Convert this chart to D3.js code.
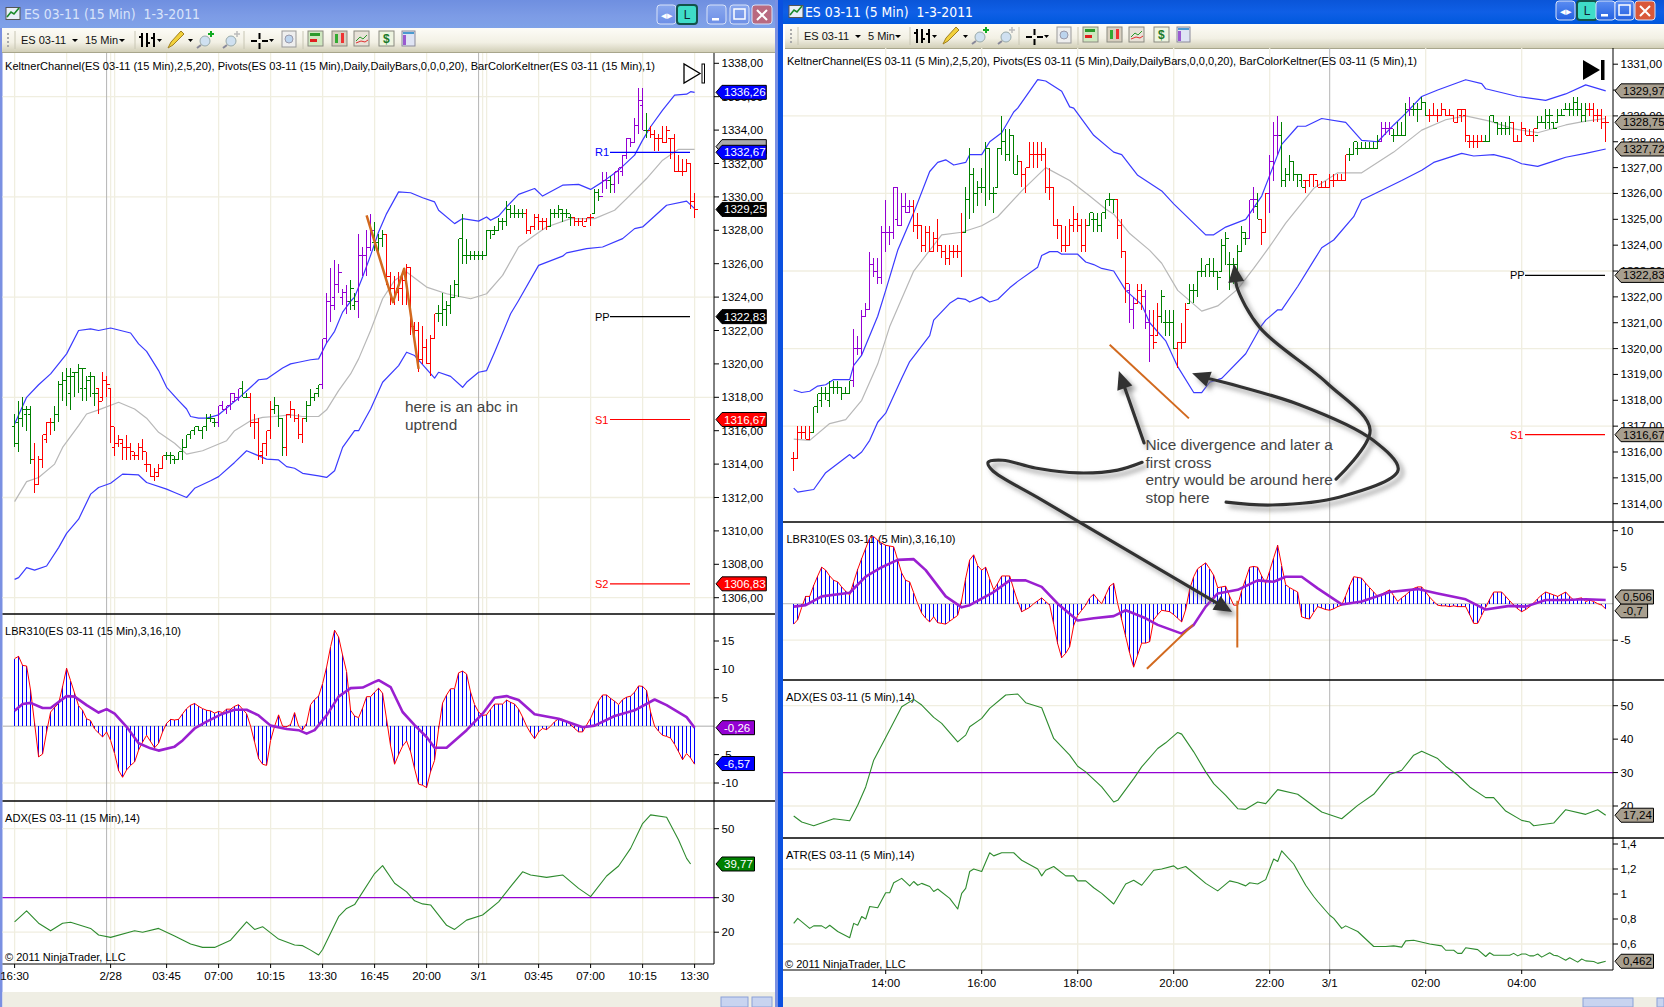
<!DOCTYPE html>
<html><head><meta charset="utf-8">
<script src="https://cdn.jsdelivr.net/npm/d3@7"></script>
<style>html,body{margin:0;padding:0;background:#fff;overflow:hidden}svg{display:block}text{font-family:"Liberation Sans",Arial,sans-serif}</style>
</head><body><div id="c"></div>
<script>
// ===== DATA (prices are stored as offset from priceBase) =====
const priceBase=1300;
// --- 15 minute chart ---
const high15=[17,17.75,18,17.5,17.5,15.25,14.5,15.75,16.5,16.75,17.5,19,19.5,19.75,19.75,19.5,20,19.75,19.25,19.5,19.25,18.5,19.5,19.25,18.5,16.25,15.75,15.5,15.75,15.25,14.75,15.25,15.5,14.75,14,13.75,14,14.5,14.75,14.75,14.5,14.75,15.5,15.75,16,16.25,16.25,16.25,17,17,16.75,17.5,17.75,17.5,18.25,18.25,18.5,19,18.25,18.25,17,16.75,15.25,16,17.75,18,17.5,16.75,17,17.75,17.25,17,16.75,17.75,18.5,18.25,18.75,21.5,24.25,25.75,26.25,26,24.5,24.75,25,24.25,27.75,27,28,29,28.5,27.75,28,27.75,25.5,25.25,25.5,25.5,26,25.75,22.5,22.5,22.25,21.5,21.75,23,23.5,24.25,23.75,24.75,25,27.5,29,27.5,26.75,26.75,26.75,26.75,28,28,28.25,28.75,28.75,29.75,29.5,29.5,29.25,29.25,29.25,28.25,29,29,28.75,28.75,29.25,29.25,29.5,29.25,29.25,29,28.75,28.75,28.75,28.75,29,30.5,30.5,31.5,31.5,31.25,31.5,31.75,32.5,33.5,33.5,34.75,36.5,36.5,35,34.25,34,33.75,34.25,34.25,33.5,33.75,32.5,32.25,32.25,32,30.25];
const low15=[15,14.75,16.25,16,14,12.25,12.75,13.75,15.25,15.75,16,16.5,17.75,17.5,17.25,18,18.25,17.75,17.75,18,17.5,17,17.75,18,15.25,14.5,15,14.25,14.25,14.25,14.25,14.25,14.25,13.5,13.25,13,13.25,13.75,14.25,14,14,14.25,14.25,15,15.5,15.75,16,15.5,16,16.5,16.25,16.25,17.25,17,17.25,17.75,17.75,18,18,16.25,15.5,14.25,14,14.5,15.5,17,16.25,14.5,14.5,16.75,16.5,15.5,15.25,16.5,17.5,17.75,18,18.5,21.25,22.5,23.25,24.25,23.5,23,23.25,23.25,22.75,25.25,25.25,26.75,26.75,26.5,27,24.75,23.5,23.5,23.75,23.5,23.5,21.75,21.75,19.5,20,20,19.25,21.5,22.5,22.25,22.25,23,24,24,26,26,26.25,26.25,26.25,26.25,26.5,27.5,27.75,28,28,28.25,28.75,28.75,28.75,28.75,27.75,27.75,28,28,28,28,28.25,28.75,28.75,28.5,28.75,28.25,28.25,28.25,28.25,28.5,28.25,29,29.75,30.25,30.5,30.25,30.25,30.75,31.25,32.25,33,33.25,33.75,34,33.5,33.5,32.75,32.75,33.25,33.25,32.25,31.5,31.5,31.25,31.5,29.25,28.75];
const open15=[16.25,16.5,16.75,17,17,14.25,12.75,14.25,15.5,16.5,16.5,17,18.75,19,18.25,19.5,19.5,18.5,18.5,19.25,18.25,18.5,18,19,18.5,15,15.25,15.25,15,15,14.5,14.5,15,14,14,13.25,13.25,13.75,14.5,14.5,14.25,14.25,14.75,15,15.75,16,16.25,16,16.25,16.75,16.5,16.5,17.5,17.25,17.5,17.75,18,18.5,18,18,16.5,16.5,14.75,15.25,16,17.25,17.5,16.75,15,17,17.25,16.75,15.75,16.75,17.5,18,18.5,18.75,21.5,23.75,24,24.75,24,24.25,23.75,23.5,23.75,26.5,26.5,27,27.25,27.25,27.5,27.75,25.25,24.5,24.5,24.5,25,25.75,22.25,22,20.25,21,20,21.5,23,23,23.25,23.5,24,24.75,27.5,26.5,26.5,26.5,26.5,26.5,26.5,28,27.75,28,28.5,28.5,29.25,29,29,29,29,28,28.25,28.75,28.5,28.5,28.25,29,29,29,29,28.75,28.75,28.5,28.5,28.5,28.75,29,30.25,30,31,31,30.75,31.5,31.5,32.5,33.5,33.25,34.25,35.5,34,34,33.75,33.5,33.5,33.25,33.5,33.5,31.5,31.5,31.5,32,29.75];
const close15=[15.25,16.75,17.25,17.25,14.25,12.75,14.25,15.75,16.5,16.5,17,18.75,19,19.25,19.25,19.5,19.75,19.75,19,19.25,18.25,17.75,19,18.75,16.25,15.25,15.5,15,15,14.75,14.5,15,14.75,14,13.25,13.5,13.75,14.5,14.5,14.5,14.25,14.75,15,15.75,16,16.25,16,16.25,16.75,16.75,16.5,17.5,17.25,17.5,18.25,18,18.5,18,18,16.5,16.5,14.5,15.25,16,17.25,17.5,16.75,15,17,17.25,16.75,15.75,16.75,17.5,18,18.25,18.75,21.5,23.75,23.5,24.75,25.5,24.25,23.75,24.5,23.75,26.5,26.5,27,28,27.25,27.5,27.75,25.25,24.5,24.25,24.5,25,25.75,22.25,22,20.25,21,20,21.5,23,23,23.25,23.5,24,24.75,27.5,26.5,26.5,26.5,26.5,26.5,26.5,28,28,28,28.5,28.5,29.25,29,29,29,29,28,28.25,28.75,28.5,28.5,28.25,29,29,29.25,29,29,28.75,28.5,28.5,28.25,28.75,28.75,30.25,30,31,31,30.75,31.5,31.75,32.5,33.5,33.25,34.25,35.75,34,34,33.75,33.5,33.5,33.25,34,33.5,31.5,31.5,31.5,32,29.75,29.25];
const colorRuns15=[["g",5],["r",5],["g",11],["r",17],["g",13],["p",6],["g",2],["r",6],["g",3],["r",5],["g",4],["p",7],["g",2],["p",4],["g",3],["r",13],["g",22],["r",6],["g",6],["r",5],["g",2],["p",2],["g",1],["p",8],["g",1],["r",12]];
const upper15=[[0,16.4],[3,18],[6,18.75],[9,19.4],[13,20.6],[16,22],[19,22.1],[21,22],[24,22.15],[29,21.85],[31,21.2],[33,20.75],[36,19.6],[38,18.6],[41,17.8],[43,17.3],[44,16.85],[46,16.75],[48,16.75],[51,16.95],[54,17.55],[56,17.95],[59,18.6],[61,19.05],[63,19.1],[67,19.75],[69,20],[71,20.1],[74,20.25],[76,20.3],[78,21.25],[80,21.95],[82,23.1],[84,23.75],[85,24],[87,25.2],[89,26.5],[91,27.9],[93,29],[96,30.3],[99,30.25],[102,29.95],[105,29.7],[106,29.2],[110,28.4],[112,28.7],[116,28.55],[118,28.8],[119,28.6],[121,28.85],[123,29.4],[126,30.15],[130,30.5],[132,30.05],[137,30.7],[141,30.75],[144,30.45],[147,30.9],[151,31.6],[155,32.5],[157,33.4],[159,34.2],[162,35.2],[165,36.1],[168,36.15],[169,36.3],[170,36.26]];
const middle15=[[0,11.75],[3,12.95],[6,13.2],[10,14],[12,15],[16,16.3],[18,17],[21,17.25],[26,17.7],[30,17.3],[33,16.75],[36,15.9],[40,15.25],[43,14.6],[47,14.8],[53,15.4],[55,16],[59,16.6],[62,16.8],[65,16.85],[69,16.95],[72,16.85],[76,16.85],[78,17.25],[81,18.4],[84,19.4],[86,20.3],[89,22],[92,23.9],[95,25],[98,25.5],[103,24.6],[108,24.2],[114,23.9],[118,24.2],[122,25.3],[126,27],[130,27.7],[133,28.2],[139,28.7],[145,28.7],[150,29.2],[153,29.9],[158,31.1],[162,32.2],[166,32.85],[170,32.85]];
const lower15=[[0,7.1],[1,7.2],[3,7.8],[5,7.65],[8,7.9],[11,9],[13,9.85],[16,10.7],[19,12.2],[21,12.6],[24,12.85],[27,13.4],[31,13.35],[33,12.9],[38,12.5],[40,12.3],[43,12],[45,12.55],[49,13],[51,13.25],[55,14.1],[58,14.8],[60,14.6],[63,14.3],[66,14.25],[68,13.85],[70,13.75],[72,13.45],[76,13.3],[78,13.2],[80,13.6],[82,15],[85,16],[86,16],[89,17.3],[92,18.9],[96,19.9],[98,20.7],[100,20.5],[105,19.15],[106,19.5],[109,19.25],[112,18.6],[113,18.9],[116,19.5],[118,19.6],[120,20.7],[124,23],[126,23.8],[131,25.9],[137,26.45],[138,26.65],[143,26.9],[147,27],[152,27.5],[155,28.1],[157,28.2],[163,29.5],[168,29.75],[170,29.3]];
const lbr15=[11.9,12.3,10.7,10.6,6.3,0.5,-5.4,-4.9,-1,2.5,3.3,4,7,10.2,8,5.8,3.6,2.8,1.3,1,-0.5,-1.2,-1.9,-1,-2.5,-4.8,-7.8,-9,-7.7,-6.9,-6.3,-4.2,-2.8,-1.6,-2.7,-3.8,-3,-1,0.5,1.2,1.1,1.2,2.2,3.1,3.7,4,3.5,3.1,2.8,2.7,2.3,2.6,2.4,3,3,3.5,3.8,3,2.2,0,-2.8,-5.7,-6.7,-6.9,-2.5,0,2,0,-0.1,0.3,2.4,0,-0.7,0.5,3.8,4.7,5.3,7.5,10.4,14,16.9,15.7,12.5,9.6,2.8,1.8,1.5,3.2,5.2,5.2,6,6.7,5.8,1.2,-3.5,-6.7,-5,-3.5,-2.6,-4.5,-7.5,-10.2,-10.4,-10.8,-8,-6,-0.5,4.1,5.5,6.6,6.6,9.4,9.7,9.2,6,3.8,2.5,1.9,2,3,3.9,3.9,3.9,4.6,4.2,3.9,3,1.6,0,-1.2,-2.2,-1,-0.4,-0.6,0,0.8,1.3,1.2,0.8,0.3,-0.4,-1,-1,0.2,1.4,3,4.5,5.5,5.5,4.9,4.4,3.8,4.7,5.1,5.3,6,7.1,7,6.3,2.5,0,-0.9,-1.6,-1.8,-2.1,-3.2,-4.5,-5.9,-4.8,-5.6,-6.7];
const signal15=[[0,2.7],[2,3.9],[4,4.1],[7,3.2],[9,3.2],[13,5.3],[15,5.2],[18,3.7],[21,2.4],[23,3],[25,2.2],[28,-0.1],[31,-3],[34,-3.9],[36,-4.3],[40,-3.6],[42,-2.5],[45,-0.4],[48,0.8],[52,2.2],[55,2.9],[58,2.9],[61,1.9],[64,0.1],[68,-0.5],[71,-0.7],[73,-1.3],[75,-0.7],[78,1.9],[81,5.2],[84,6.7],[87,6.8],[90,7.8],[91,8.1],[94,6.9],[97,2.5],[100,0.2],[103,-1.9],[105,-3.8],[108,-3.8],[113,-0.7],[117,2.2],[120,5],[123,5.3],[126,4.6],[130,2.1],[136,1.3],[142,-0.2],[145,0.1],[150,1.8],[155,2.8],[160,4.7],[163,3.7],[168,1.6],[170,-0.26]];
const adx15=[[0,23],[3,26.2],[6,22.6],[9,20.4],[12,22.6],[14,22.9],[19,21.1],[21,19.2],[24,18.5],[30,20.4],[32,20],[36,21.1],[40,18.9],[44,16.6],[47,15.6],[50,15.6],[54,17.7],[58,23],[60,20.8],[62,21.6],[66,18],[70,16.3],[72,16.1],[74,14.8],[76,13.4],[77,15],[81,24.5],[83,26.9],[85,28],[90,37],[92,39.3],[95,34.2],[98,31.7],[100,29.1],[102,28.2],[104,27.9],[108,22],[110,20.8],[113,23.5],[117,25],[121,28.8],[124,33.2],[127,37.5],[129,36.6],[133,35.9],[137,36.6],[141,32.7],[144,30.3],[148,36.3],[151,39.2],[154,44.3],[157,51.5],[159,54],[163,53.3],[166,46.7],[168,41.4],[169,39.77]];
const abcLine=[[88,28.9],[94.6,23.7],[97.4,25.7],[101,19.7]];
const ticks15=[38,36,34,32,30,28,26,24,22,20,18,16,14,12,10,8,6];
const timeLabels15=["16:30","2/28","03:45","07:00","10:15","13:30","16:45","20:00","3/1","03:45","07:00","10:15","13:30"];
const timeBars15=[0,24,38,51,64,77,90,103,116,131,144,157,170];
const gridBars15=[0,13,24,25,38,51,64,77,90,103,117,118,131,144,157,170];
// --- 5 minute chart ---
const high5=[16,17,17,17,17,17.75,18.25,18.5,18.5,18.75,18.75,18.75,18.5,18.5,18.75,20.75,20.5,21.5,21.75,23.75,23.5,23.5,24.75,25.75,24.75,26.25,26.25,26,26,25.75,25.75,25.25,24.75,24.75,24.75,24.5,25,24,24,24,24,24,25.25,26.25,27.75,27,26.5,27,28,27.75,26.25,27.75,29,28.5,28.5,28.25,27.5,27.25,27,28,28,28,28,27.75,27,26.25,25,24.75,24.75,25,25.5,25.25,25,25,25.25,25.25,25.25,25.25,25.75,26,25.75,25.75,25,23.75,22.5,22,22.5,22.5,22.25,21.5,21.5,21.75,22.25,21.5,21.5,21.5,20.25,21,21.75,22.5,22.5,23,23.5,23.25,23.5,23.5,23,24.25,24.5,23.75,23.5,24,24.75,24.5,25.75,26.25,26,25,26,27.5,28.75,29,28.75,27,27.5,27.25,26.75,26.75,26.5,26.75,26.75,26.5,26.5,26.5,26.75,26.75,26.75,26.75,27.5,27.75,28,28,28,28,28,28,28.25,28.75,28.75,28.75,28.5,28.75,28.75,29.5,29.75,29.5,29.5,29.75,29.5,29.25,29.5,29.25,29.5,29.25,29.25,29,29.25,29.25,29.25,28.25,28.25,28.25,28.25,28.25,29,29,28.75,28.75,28.75,29,28.75,28.25,28.75,28.5,28.5,28.5,29,29,29.25,29.25,28.75,29.25,29.25,29.5,29.5,29.75,29.75,29.5,29.5,29.5,29.5,29.25,29.25,29];
const low5=[15.25,15.75,16.5,16.5,16.5,16.75,17.5,17.75,18,17.75,18.25,18.25,18,18.25,18.25,18.5,19.75,19.75,21.25,21.5,22.75,22.5,22.5,23.75,24,24.25,24.75,24.75,25.25,25.25,24.5,24.25,23.75,23.75,23.75,23.75,23.75,23.5,23.25,23.25,23.5,23.5,22.75,24.5,25,25.25,25.5,26,25.5,25.75,25.25,26.25,27.5,27.25,27.25,26.75,26.75,26.25,26,27,27,27,27.25,26,25.75,24.75,24.25,23.75,23.75,24,24.5,24.5,23.75,23.75,24.75,24.5,24.5,24.5,25,25.5,25.25,24.25,23.5,21.75,21,20.75,21.75,21.5,20.75,19.5,20,20.5,21,20.5,20.5,20,19.25,20,20.25,21.75,21.75,22,22.75,22.75,22.75,22.75,22.25,23,23.25,22.25,22.5,23,23.75,24,24.25,25.25,25,24,24.5,25.25,26.5,27.5,26.25,26.25,26.5,26.5,26.25,26.25,26,26.25,26.25,26.25,26.25,26.25,26.25,26.25,26.5,26.5,26.5,27.25,27.5,27.5,27.75,27.75,27.75,27.75,27.75,28,28.25,28.25,28,28.25,28.25,28.25,29,29,28.75,29.25,29,28.75,29,28.75,29,29,29,28.75,28.75,28.75,28,27.75,27.75,27.75,28,28,28,28.75,28.25,28.25,28.25,28.25,28,28,28,28.25,28.25,28,28.5,28.75,28.5,28.5,28.5,28.75,29,29.25,29,29,29,28.75,28.75,29,28.75,28.75,28.5,28];
const open5=[15.75,15.75,16.75,16.75,16.5,16.75,17.75,18,18.25,18,18.5,18.5,18.5,18.25,18.25,18.75,20,20,21.25,21.5,23.25,23,22.75,24.5,24.5,24.5,25,24.75,25.5,25.5,25.5,24.75,24.75,24,24.5,23.75,24.25,24,23.75,23.5,23.75,23.75,23.75,24.5,25.75,26.75,26,26.25,26.25,27.75,26,26.25,27.75,28,27.5,28.25,26.75,27.25,26.75,27,27.5,27.5,27.5,27.5,26.25,26.25,24.75,24.75,24,24,24.75,25,24.75,24,24.75,25,25,24.75,25.25,25.75,25.75,25.75,24.75,23.75,22.25,21.5,21.75,22.25,22,21,20.5,20.5,21.25,21,21,21,20,20.25,20.25,21.75,22.25,22.25,23,23,23.25,23,23,23,24,23.25,23.25,23.25,23.75,24.25,24.25,25.75,25.5,25,24.5,26,27.25,28.25,28.25,26.5,26.75,27.25,26.75,26.5,26.5,26.5,26.75,26.5,26.25,26.25,26.25,26.5,26.5,26.5,26.5,27.5,27.5,27.75,27.75,27.75,27.75,27.75,27.75,28,28.5,28.5,28.25,28.25,28.25,28.25,29.25,29.25,29.25,29.25,29.5,29,29,29,29,29.25,29,29,28.75,29,29,28,28,28,28,28,28,29,28.75,28.5,28.5,28.5,28.75,28,28,28.5,28.25,28.25,28.25,28.75,28.75,28.75,28.75,28.75,29,29.25,29.25,29.25,29.25,29.25,29,29.25,29.25,29,29,28.75];
const close5=[15.75,16.75,16.75,16.5,16.75,17.75,18.25,18.25,18.25,18.5,18.5,18.5,18.25,18.25,18.75,20,20,21.25,21.5,23.25,23,22.75,24.5,24.5,24.5,26.25,24.75,25.5,25.25,25.5,24.75,24.75,24,24.5,23.75,24.25,24,23.75,23.5,23.75,23.75,23.75,24.5,25.75,26.75,26,26.25,26.25,27.75,26,26,27.75,28,27.5,28.25,26.75,27.25,26.75,27,27.5,27.5,27.5,27.5,26.25,26.25,24.75,24.75,24,24,24.75,25,24.75,24,24.75,25.25,25,24.75,25.25,25.75,25.75,25.75,24.75,23.75,22.5,21.5,21.75,22.25,22,21,20.5,20.25,21.25,22,21,21,20,20.25,20.25,21.5,22.25,22.25,23,23,23.25,23,23,22.75,24,24.25,23.25,23.25,23.75,24.5,24.25,25.75,25.75,25,24.5,26,27.25,28.25,28.25,26.5,26.75,27.25,26.75,26.75,26.25,26.5,26.75,26.75,26.25,26.25,26.25,26.5,26.5,26.5,26.5,27.5,27.5,28,27.75,27.75,27.75,27.75,27.75,28,28.5,28.5,28.5,28.25,28.25,28.25,29.25,29.25,29.25,29.25,29.5,29,29,29,29,29.25,29,29,28.75,29.25,29.25,28.25,28,28,28,28,28,29,28.75,28.5,28.5,28.5,28.75,28,28,28.5,28.25,28.25,28.5,28.75,28.75,29,29,28.5,29,29,29.25,29.25,29.5,29.25,29,29.25,29.25,29,29,28.75,28.75];
const colorRuns5=[["r",5],["g",10],["p",15],["r",13],["g",14],["r",17],["g",7],["r",3],["p",2],["r",2],["p",2],["r",2],["g",4],["r",3],["g",15],["p",2],["g",1],["r",2],["p",3],["g",6],["r",11],["g",8],["p",3],["g",4],["p",1],["g",4],["r",14],["g",7],["r",6],["g",13],["r",5]];
const upper5=[[0,18.4],[2,18.3],[4,18.35],[6,18.55],[8,18.6],[10,18.8],[14,18.8],[15,19.35],[17,19.75],[21,21.25],[23,22.25],[26,23.8],[30,25.25],[34,26.85],[36,27.2],[38,27.3],[40,27.1],[43,27.2],[44,27.5],[47,27.5],[49,28],[52,28.35],[55,29.15],[56,29.3],[61,30.4],[63,30.35],[67,29.95],[69,29.35],[70,29.3],[75,28.25],[80,27.6],[82,27.5],[86,26.7],[88,26.5],[92,26.1],[95,25.6],[103,24.4],[105,24.4],[108,24.7],[113,25],[117,25.9],[119,26.7],[122,27.9],[126,28.6],[128,28.6],[132,28.9],[138,28.75],[142,28.05],[146,28],[150,28.65],[153,29.1],[157,29.75],[161,30],[168,30.4],[172,30.25],[173,30.05],[181,29.75],[188,29.6],[193,29.85],[198,30.2],[203,29.97]];
const middle5=[[0,16.5],[4,16.45],[9,17.1],[13,17.25],[17,18],[21,19.4],[24,20.85],[30,23],[34,23.8],[37,24.4],[42,24.5],[47,24.75],[51,25.1],[57,26.1],[63,27],[69,26.5],[74,25.9],[78,25.4],[80,25.2],[84,24.45],[89,23.8],[92,23.3],[96,22.25],[102,21.45],[106,21.65],[111,22.3],[115,23.1],[119,23.95],[123,24.85],[130,26.2],[136,26.8],[142,26.8],[150,27.6],[157,28.45],[163,28.85],[168,29],[174,28.8],[180,28.5],[186,28.35],[193,28.65],[198,28.8],[203,28.9]];
const lower5=[[0,14.6],[1,14.45],[5,14.55],[8,15.2],[14,15.9],[15,15.75],[17,16],[19,16.45],[21,17.15],[23,17.5],[27,18.85],[29,19.5],[34,20.5],[35,21.1],[39,21.75],[41,21.95],[43,21.9],[44,21.8],[47,22],[49,21.8],[51,21.9],[54,22.35],[56,22.6],[61,23.15],[62,23.6],[64,23.75],[66,23.75],[67,23.65],[71,23.65],[73,23.35],[75,23.25],[77,23.1],[80,23],[83,22.25],[87,21.7],[89,21],[93,20.3],[96,19.3],[100,18.3],[102,18.3],[104,18.7],[107,18.85],[113,19.8],[117,20.9],[118,21.1],[121,21.5],[122,21.5],[126,22.4],[130,23.4],[132,23.9],[135,24.2],[140,25.1],[142,25.75],[146,26.05],[152,26.5],[157,26.9],[160,27.2],[167,27.55],[170,27.45],[175,27.5],[179,27.35],[182,27.15],[186,27.05],[191,27.3],[193,27.4],[198,27.55],[203,27.72]];
const lbr5=[-2.8,-2.2,-0.5,1,1,2.5,3.8,5,4.6,3.8,3.2,3,2.3,1.7,1.2,3,4.7,6.2,7.6,9,9.2,8.7,8.3,8,7.9,7.8,6,4.2,3.2,3,1.5,0,-1.3,-2,-2.5,-1.8,-2.6,-2.7,-2.8,-2.4,-2,-1.6,0.5,3.5,6,6.7,5.2,4.6,5,3.4,1.9,2.8,3.8,3.8,3.8,2,0.3,-1.1,-0.8,-0.5,0,0.4,0.8,0.3,-0.2,-2.8,-5.5,-7.4,-6.8,-5.9,-3,-1.6,-0.9,-0.2,0.8,1.3,0.6,0,1.2,2.4,2.8,0,-2.2,-4.5,-6.8,-8.7,-7,-5.4,-5.4,-5.2,-2.2,-1.5,-0.9,-1,-1.1,-1.5,-2,-2.5,-0.8,2,3.7,4.8,5.2,5.6,4.8,3.9,2.2,2.3,2.4,1,-0.2,-0.2,1.8,3.4,5,5.1,5,3.8,2.8,4.5,6.3,8,5.2,2.6,2.2,1.9,1.6,-1.8,-2,-2.1,-1.2,-0.4,-0.6,-0.8,-0.9,-0.7,-0.4,-0.2,1.1,2.5,3.7,3.6,3.5,2.8,2.2,1.6,1,1.3,1.6,1.9,1.1,0.3,0.8,1.2,1.7,2.1,2.3,2.3,1.6,0.9,0.3,-0.2,-0.3,-0.3,-0.4,-0.3,-0.4,-0.4,-0.4,-1.5,-2.7,-2.7,-1.6,-0.5,0.6,1.6,1.6,1.6,1,0.4,-0.2,-0.7,-1.1,-0.8,-0.4,0.1,0.7,1.2,1.6,1.4,1.2,1,1.3,1.6,1,0.5,0.7,0.8,0.3,0.5,0.3,0,-0.2,-0.7];
const signal5=[[0,-0.4],[3,-0.2],[7,1],[14,1.5],[18,3.7],[22,5],[26,6],[30,6.1],[33,4.6],[38,1],[42,-0.5],[44,-0.2],[50,1.6],[54,3.2],[58,3.2],[62,2.3],[66,0],[71,-2.3],[75,-2],[80,-1.7],[83,-0.9],[88,-2],[91,-2.9],[97,-4.1],[100,-2.9],[103,-0.4],[106,1.4],[111,1.9],[116,3.2],[120,3],[123,3.7],[127,3.7],[131,2.1],[137,-0.1],[142,0.3],[149,1.6],[156,2],[161,1.4],[168,0.6],[173,-0.8],[179,-0.3],[183,-0.4],[188,0.5],[193,0.5],[198,0.6],[203,0.506]];
const adx5=[[0,17],[2,15.2],[5,14.1],[10,16.2],[14,15.6],[16,20.2],[18,25.7],[20,33.7],[23,40.5],[27,49.7],[30,51.9],[32,50.2],[35,46.5],[37,44.7],[41,39.2],[43,41.2],[44,43.7],[47,46.2],[49,49.2],[53,53.2],[56,53.5],[58,50.9],[62,49.4],[65,40.2],[69,35.2],[71,31.9],[73,30.2],[77,25.7],[80,21.2],[81,21.7],[85,28.2],[87,31.7],[91,37.2],[93,38.9],[96,42],[97,41.5],[100,36.2],[103,30.2],[105,26.7],[108,23.2],[111,19.2],[113,19],[116,21.2],[118,20.7],[121,24.9],[126,23.5],[132,18.2],[137,16.2],[141,20.2],[145,23.5],[149,29.4],[152,30.7],[155,35.2],[157,36.4],[161,34.2],[163,31.9],[166,29.2],[169,25.7],[173,22.5],[175,22.5],[178,18.5],[182,15.7],[184,15.2],[185,14.1],[190,14.9],[193,18.9],[198,17.5],[201,18.9],[203,17.24]];
const atr5=[[0,.765],[1,.805],[4,.725],[5,.745],[7,.745],[8,.725],[9,.75],[11,.7],[14,.65],[15,.765],[16,.75],[17,.82],[18,.8],[19,.9],[21,.89],[23,1.01],[24,1.01],[25,1.09],[27,1.125],[29,1.065],[30,1.1],[31,1.07],[32,1.085],[34,1.06],[35,1.02],[36,1.04],[39,.965],[41,.88],[42,1.005],[43,1.045],[44,1.18],[45,1.2],[47,1.18],[49,1.33],[50,1.305],[52,1.33],[55,1.33],[57,1.27],[61,1.2],[62,1.145],[63,1.19],[65,1.22],[68,1.145],[70,1.145],[71,1.105],[73,1.105],[75,1.05],[77,1.005],[80,.92],[83,1.08],[85,1.11],[87,1.07],[88,1.11],[90,1.19],[92,1.2],[95,1.225],[96,1.2],[98,1.22],[103,1.085],[106,1.025],[109,1.105],[111,1.09],[113,1.065],[114,1.09],[116,1.08],[118,1.115],[120,1.28],[121,1.26],[122,1.345],[125,1.24],[128,1.07],[130,.98],[131,.94],[134,.83],[135,.805],[137,.725],[138,.745],[141,.7],[145,.58],[148,.58],[150,.585],[152,.575],[153,.625],[155,.63],[159,.6],[162,.585],[163,.55],[165,.55],[166,.525],[167,.525],[168,.57],[171,.555],[173,.5],[174,.53],[175,.51],[179,.51],[180,.525],[181,.505],[182,.52],[183,.52],[184,.505],[185,.505],[186,.52],[187,.495],[189,.53],[190,.51],[191,.505],[193,.47],[194,.49],[196,.455],[197,.48],[198,.465],[200,.46],[201,.445],[203,.462]];
const divergenceLine=[[79,20.15],[98.8,17.3]];
const lbrCrossLine=[[88.3,-8.9],[99.8,-2.9]];
const lbrEntryLine=[[110.9,0.4],[110.9,-6]];
const arrowA=[[87.6,16.35],[81.3,19.13]];
const arrowB=[[108.1,14.06],[119.6,13.95],[136.6,14.26],[151.1,15.3],[144.8,16.46],[126.6,17.82],[102.3,18.9],[99.6,19.05]];
const arrowC=[[135.6,14.95],[144.1,16.85],[133.3,18.67],[116.6,20.8],[110.8,22.38],[110.1,23.27]];
const arrowD=[[87.1,15.6],[81,15.3],[71.1,15.19],[60.4,15.38],[52.2,15.68],[48.6,15.6],[49.6,15.3],[62.1,14.14],[109.6,9.81]];
const ticks5=[31,30,29,28,27,26,25,24,23,22,21,20,19,18,17,16,15,14];
const timeLabels5=["14:00","16:00","18:00","20:00","22:00","3/1","02:00","04:00"];
const timeBars5=[23,47,71,95,119,134,158,182];
const gridBars5=[23,47,71,95,119,158,182];
// ===== DRAWING =====
const W=1664,H=1007;
const svg=d3.select("#c").append("svg").attr("width",W).attr("height",H);
const defs=svg.append("defs");
function grad(id,stops){const g=defs.append("linearGradient").attr("id",id).attr("x1",0).attr("y1",0).attr("x2",0).attr("y2",1);stops.forEach(([o,c])=>g.append("stop").attr("offset",o).attr("stop-color",c));}
grad("titleA",[[0,"#0a55d8"],[.5,"#0f5fe6"],[1,"#0058dd"]]);
grad("titleI",[[0,"#6f8fe0"],[.6,"#7d9ce6"],[1,"#7fa2e8"]]);
grad("tool",[[0,"#fdfcf7"],[.6,"#f2f0e4"],[1,"#d2cfb8"]]);
grad("btnA",[[0,"#5b8df2"],[1,"#2360e0"]]);
grad("btnI",[[0,"#8aa8ee"],[1,"#6d8fe6"]]);
const sh=defs.append("filter").attr("id","shadow").attr("x","-20%").attr("y","-20%").attr("width","150%").attr("height","150%");
sh.append("feDropShadow").attr("dx",4).attr("dy",4).attr("stdDeviation",2.5).attr("flood-color","#777").attr("flood-opacity",.75);
const barColor={g:"#008000",r:"#ff0000",p:"#9400d3"};
const expand=r=>r.flatMap(([c,n])=>Array(n).fill(c));
const line=(x,y)=>d3.line().x(d=>x(d[0])).y(d=>y(d[1]));

function gridV(g,x,bars,y0,y1){g.selectAll(null).data(bars).join("line").attr("x1",x).attr("x2",x).attr("y1",y0).attr("y2",y1).attr("stroke","#f0eee0").attr("stroke-width",1.3);}
function gridH(g,y,vals,x0,x1){g.selectAll(null).data(vals).join("line").attr("y1",y).attr("y2",y).attr("x1",x0).attr("x2",x1).attr("stroke","#f0eee0").attr("stroke-width",1.3);}
function ohlc(g,x,y,h,l,o,c,runs){
  const col=expand(runs),data=h.map((v,i)=>({i,h:v+priceBase,l:l[i]+priceBase,o:o[i]+priceBase,c:c[i]+priceBase,k:barColor[col[i]]}));
  const s=g.selectAll(null).data(data).join("g").attr("stroke",d=>d.k).attr("stroke-width",1).attr("shape-rendering","crispEdges");
  s.append("line").attr("x1",d=>x(d.i)).attr("x2",d=>x(d.i)).attr("y1",d=>y(d.h)).attr("y2",d=>y(d.l));
  s.append("line").attr("x1",d=>x(d.i)-3).attr("x2",d=>x(d.i)).attr("y1",d=>y(d.o)).attr("y2",d=>y(d.o));
  s.append("line").attr("x1",d=>x(d.i)).attr("x2",d=>x(d.i)+3).attr("y1",d=>y(d.c)).attr("y2",d=>y(d.c));
}
const off=a=>a.map(([i,v])=>[i,v+priceBase]);
function path(g,d,gen,col,w){return g.append("path").attr("d",gen(d)).attr("fill","none").attr("stroke",col).attr("stroke-width",w).attr("stroke-linejoin","round");}
function stems(g,vals,x,y){g.selectAll(null).data(vals).join("line").attr("x1",(d,i)=>x(i)).attr("x2",(d,i)=>x(i)).attr("y1",y(0)).attr("y2",d=>y(d)).attr("stroke","#0000ff").attr("stroke-width",1).attr("shape-rendering","crispEdges");}
function axisTicks(g,axX,y,vals,fmt){
  const s=g.selectAll(null).data(vals).join("g");
  s.append("line").attr("x1",axX).attr("x2",axX+5).attr("y1",y).attr("y2",y).attr("stroke","#000");
  s.append("text").attr("x",axX+7.5).attr("y",d=>y(d)+4).attr("font-size",11.5).attr("fill","#000").text(fmt);
}
function tag(g,axX,yy,txt,fill,tc,border,len){
  const w=(len||txt.length)*5.9+3,h=14,x0=axX+2,x1=x0+6,x2=x1+w;
  g.append("path").attr("d",`M${x0},${yy}L${x1},${yy-h/2}H${x2}V${yy+h/2}H${x1}Z`).attr("fill",fill).attr("stroke",border||"#000").attr("stroke-width",1);
  if(txt)g.append("text").attr("x",x1+2).attr("y",yy+4).attr("font-size",11.5).attr("fill",tc).text(txt);
}
function label(g,x0,yy,txt,w,size){g.append("text").attr("x",x0).attr("y",yy).attr("font-size",size||11).attr("fill","#000").attr("textLength",w).attr("lengthAdjust","spacingAndGlyphs").text(txt);}
function hLine(g,x0,x1,yy,col,w){g.append("line").attr("x1",x0).attr("x2",x1).attr("y1",yy).attr("y2",yy).attr("stroke",col).attr("stroke-width",w||1);}
function windowFrame(o){
  const g=svg.append("g");
  g.append("rect").attr("x",o.x0).attr("y",0).attr("width",o.x1-o.x0).attr("height",o.titleH).attr("fill",o.active?"url(#titleA)":"url(#titleI)");
  const ic=g.append("g");
  ic.append("rect").attr("x",o.x0+6).attr("y",o.titleH/2-6.5).attr("width",14).attr("height",12).attr("fill","#e8eef8").attr("stroke","#555");
  ic.append("path").attr("d",`M${o.x0+7},${o.titleH/2+3}l4,-5l3,2l5,-6`).attr("fill","none").attr("stroke","#1a8a2a").attr("stroke-width",1.6);
  g.append("text").attr("x",o.titleX).attr("y",o.titleH/2+5).attr("font-size",14).style("font-family","'DejaVu Sans'").attr("fill",o.active?"#fff":"#d9e4fa").attr("textLength",o.titleW).attr("lengthAdjust","spacingAndGlyphs").text(o.title);
  const b=(x,w,fill,t)=>{g.append("rect").attr("x",x).attr("y",o.btnY).attr("width",w).attr("height",19).attr("rx",3).attr("fill",fill).attr("stroke",t==="L"?"#14524a":"#d8e2f8").attr("stroke-width",t==="L"?2:1);};
  b(o.btn[0],19,o.active?"url(#btnA)":"url(#btnI)");
  g.append("text").attr("x",o.btn[0]+9.5).attr("y",o.btnY+14).attr("text-anchor","middle").attr("font-size",11).attr("fill","#fff").text("◂▸");
  b(o.btn[1],20,"#3fdcc8","L");
  g.append("text").attr("x",o.btn[1]+10).attr("y",o.btnY+14).attr("text-anchor","middle").attr("font-size",12).attr("fill","#123").text("L");
  b(o.btn[2],19,o.active?"url(#btnA)":"url(#btnI)");
  g.append("rect").attr("x",o.btn[2]+5).attr("y",o.btnY+13).attr("width",7).attr("height",2.5).attr("fill","#fff");
  b(o.btn[3],19,o.active?"url(#btnA)":"url(#btnI)");
  g.append("rect").attr("x",o.btn[3]+4).attr("y",o.btnY+4).attr("width",11).attr("height",10).attr("fill","none").attr("stroke","#fff").attr("stroke-width",1.5);
  b(o.btn[4],20,o.active?"#d9583a":"#b96a80");
  g.append("path").attr("d",`M${o.btn[4]+5},${o.btnY+5}l10,10M${o.btn[4]+15},${o.btnY+5}l-10,10`).attr("stroke","#fff").attr("stroke-width",2);
  // toolbar
  const ty=o.titleH;
  g.append("rect").attr("x",o.x0+2).attr("y",ty).attr("width",o.x1-o.x0-2).attr("height",24).attr("fill","url(#tool)");
  hLine(g,o.x0+2,o.x1,ty+24.5,"#a8a68c",1);
  g.append("path").attr("d",`M${o.x0+8},${ty+5}v14`).attr("stroke","#aaa").attr("stroke-width",2).attr("stroke-dasharray","2 2");
  const tx=o.x0+15;
  g.append("line").attr("x1",tx).attr("x2",tx).attr("y1",ty+3).attr("y2",ty+21).attr("stroke","#c8c6b4");
  g.append("text").attr("x",tx+6).attr("y",ty+16).attr("font-size",11).attr("fill","#111").text("ES 03-11");
  g.append("path").attr("d",`M${tx+57},${ty+11}h6l-3,3z`).attr("fill","#000");
  g.append("text").attr("x",tx+70).attr("y",ty+16).attr("font-size",11).attr("fill","#111").text(o.period);
  g.append("path").attr("d",`M${tx+o.menu},${ty+11}h6l-3,3z`).attr("fill","#000");
  const s=o.toolX;
  [s-4,s+105,s+164].forEach(xx=>g.append("line").attr("x1",xx).attr("x2",xx).attr("y1",ty+3).attr("y2",ty+21).attr("stroke","#c8c6b4"));
  [s+18,s+49,s+130].forEach(xx=>g.append("path").attr("d",`M${xx},${ty+11}h5l-2.5,3z`).attr("fill","#000"));
  g.append("path").attr("d",`M${s+3},${ty+5}v14M${s+8},${ty+5}v14M${s+15},${ty+5}v14M${s},${ty+9}h3M${s+8},${ty+15}h3M${s+12},${ty+10}h3`).attr("stroke","#000").attr("stroke-width",2).attr("fill","none");
  g.append("path").attr("d",`M${s+29},${ty+20}l3,-6l10,-11l3,3l-11,11z`).attr("fill","#f2d13c").attr("stroke","#a08020");
  const mag=(cx,col)=>{g.append("circle").attr("cx",cx).attr("cy",ty+13).attr("r",5).attr("fill","#cfe0f0").attr("stroke","#9aa");g.append("line").attr("x1",cx-4).attr("y1",ty+17).attr("x2",cx-8).attr("y2",ty+20).attr("stroke","#889").attr("stroke-width",2);g.append("path").attr("d",`M${cx+3},${ty+6}h6M${cx+6},${ty+3}v6`).attr("stroke",col).attr("stroke-width",col==="#bbb"?1.5:2);};
  mag(s+66,"#11aa22");mag(s+92,"#bbb");
  g.append("path").attr("d",`M${s+112},${ty+13}h6M${s+123},${ty+13}h6M${s+120.5},${ty+5}v6M${s+120.5},${ty+15}v6`).attr("stroke","#000").attr("stroke-width",2);
  g.append("rect").attr("x",s+143).attr("y",ty+3).attr("width",14).attr("height",16).attr("fill","#eee").attr("stroke","#999");
  g.append("circle").attr("cx",s+150).attr("cy",ty+11).attr("r",4).attr("fill","#bcd4ee").attr("stroke","#99a");
  [[s+169,"#cfe8c0"],[s+193,"#d8d0c0"],[s+215,"#e8e2d8"],[s+240,"#eef4e0"]].forEach(([xx,c])=>{g.append("rect").attr("x",xx).attr("y",ty+3).attr("width",15).attr("height",15).attr("fill",c).attr("stroke","#8a8a80");});
  g.append("rect").attr("x",s+171).attr("y",ty+5).attr("width",10).attr("height",3).attr("fill","#2c9a2c");
  g.append("rect").attr("x",s+171).attr("y",ty+11).attr("width",7).attr("height",3).attr("fill","#e02020");
  g.append("rect").attr("x",s+196).attr("y",ty+6).attr("width",3).attr("height",9).attr("fill","#3a3");
  g.append("rect").attr("x",s+202).attr("y",ty+5).attr("width",3).attr("height",10).attr("fill","#e33");
  g.append("path").attr("d",`M${s+217},${ty+13}l4,-4l3,2l4,-4`).attr("fill","none").attr("stroke","#2c9a2c");
  g.append("path").attr("d",`M${s+217},${ty+15}l5,-2l4,1l3,-2`).attr("fill","none").attr("stroke","#e03030");
  g.append("text").attr("x",s+244).attr("y",ty+15).attr("font-size",12).attr("font-weight","bold").attr("fill","#1a7a2a").text("$");
  g.append("rect").attr("x",s+263).attr("y",ty+3).attr("width",13).attr("height",15).attr("fill","#dfe4f4").attr("stroke","#8a8a9a");
  g.append("rect").attr("x",s+264).attr("y",ty+7).attr("width",3).attr("height",10).attr("fill","#9a5ad0");
  g.append("rect").attr("x",s+264).attr("y",ty+4).attr("width",11).attr("height",2).attr("fill","#4a9ad0");
  return g;
}

svg.append("rect").attr("width",W).attr("height",H).attr("fill","#fff");
svg.append("rect").attr("x",0).attr("y",0).attr("width",2.5).attr("height",H).attr("fill","#7a90e2");
svg.append("rect").attr("x",775).attr("y",0).attr("width",3).attr("height",H).attr("fill","#7a90e2");
svg.append("rect").attr("x",778).attr("y",0).attr("width",5).attr("height",H).attr("fill","#0a50e0");
svg.append("rect").attr("x",2.5).attr("y",992).attr("width",772.5).attr("height",15).attr("fill","#efeee4");
svg.append("rect").attr("x",783).attr("y",997).attr("width",881).attr("height",10).attr("fill","#efeee4");
[[721,27],[752,20]].forEach(([x,w])=>svg.append("rect").attr("x",x).attr("y",997).attr("width",w).attr("height",10).attr("fill","#c8d4f0").attr("stroke","#8aa0d8"));
[[1583,50],[1657,7]].forEach(([x,w])=>svg.append("rect").attr("x",x).attr("y",998).attr("width",w).attr("height",9).attr("fill","#c8d4f0").attr("stroke","#8aa0d8"));
windowFrame({x0:0,x1:775,titleH:28,active:false,title:"ES 03-11 (15 Min)\u00a0\u00a01-3-2011",titleX:24,titleW:176,btnY:5,btn:[657,677,707,730,752],period:"15 Min",menu:104,toolX:139});
windowFrame({x0:783,x1:1664,titleH:24,active:true,title:"ES 03-11 (5 Min)\u00a0\u00a01-3-2011",titleX:805,titleW:168,btnY:1,btn:[1556,1577,1596,1615,1635],period:"5 Min",menu:97,toolX:914});

// ---------- LEFT (15 min) ----------
(function(){
  const g=svg.append("g"),axX=714,top=53,bot=964;
  const x=d3.scaleLinear().domain([0,170]).range([14.6,694.6]);
  const yP=d3.scaleLinear().domain([1306,1338]).range([597.7,63.3]);
  const yL=d3.scaleLinear().domain([-10,15]).range([783,641]);
  const yA=d3.scaleLinear().domain([20,50]).range([932.2,828.7]);
  gridV(g,x,gridBars15,top,bot);
  gridH(g,yP,[1336,1330,1324,1318,1312,1306],2.5,axX);
  gridH(g,yL,[5,-10],2.5,axX);
  gridH(g,yA,[50,20],2.5,axX);
  [23,116].forEach(b=>g.append("line").attr("x1",x(b)).attr("x2",x(b)).attr("y1",top).attr("y2",bot).attr("stroke","#b4b4b4").attr("stroke-width",1));
  label(g,5,70,"KeltnerChannel(ES 03-11 (15 Min),2,5,20), Pivots(ES 03-11 (15 Min),Daily,DailyBars,0,0,0,20), BarColorKeltner(ES 03-11 (15 Min),1)",650);
  const P=line(x,yP);
  path(g,off(middle15),P,"#b8b8b8",1.2);
  path(g,off(upper15),P,"#3a3aff",1.2);
  path(g,off(lower15),P,"#3a3aff",1.2);
  ohlc(g,x,yP,high15,low15,open15,close15,colorRuns15);
  path(g,off(abcLine),P,"#d2691e",2.5);
  [["R1",1332.67,"#0000ff"],["PP",1322.83,"#000"],["S1",1316.67,"#ff0000"],["S2",1306.83,"#ff0000"]].forEach(([t,v,c])=>{
    hLine(g,610,690,yP(v),c,1.2);
    g.append("text").attr("x",595).attr("y",yP(v)+4).attr("font-size",11).attr("fill",c).text(t);
  });
  g.append("path").attr("d","M684,64V83L700,73.5Z").attr("fill","none").attr("stroke","#000").attr("stroke-width",1.3);
  g.append("rect").attr("x",702).attr("y",64).attr("width",2.5).attr("height",19).attr("fill","none").attr("stroke","#000");
  g.append("text").attr("x",405).attr("y",412).attr("font-size",15.4).attr("fill","#444").text("here is an abc in");
  g.append("text").attr("x",405).attr("y",430).attr("font-size",15.4).attr("fill","#444").text("uptrend");
  hLine(g,2.5,axX,yL(0),"#c8c8c8",1.5);
  label(g,5,635,"LBR310(ES 03-11 (15 Min),3,16,10)",176);
  stems(g,lbr15,x,yL);
  path(g,lbr15.map((d,i)=>[i,d]),line(x,yL),"#ff0000",1);
  path(g,signal15,line(x,yL),"#9a1fd0",2.6);
  label(g,5,822,"ADX(ES 03-11 (15 Min),14)",135);
  hLine(g,2.5,axX,yA(30),"#9400d3",1.3);
  path(g,adx15,line(x,yA),"#2e8b2e",1.1);
  g.append("text").attr("x",5).attr("y",961).attr("font-size",11).attr("fill","#000").text("© 2011 NinjaTrader, LLC");
  hLine(g,2.5,775,614,"#000",1.4);hLine(g,2.5,775,801,"#000",1.4);hLine(g,2.5,axX,bot,"#000",1);
  g.append("line").attr("x1",axX).attr("x2",axX).attr("y1",top).attr("y2",bot).attr("stroke","#000");
  axisTicks(g,axX,yP,ticks15.map(t=>t+priceBase),d=>d3.format(".2f")(d).replace(".",","));
  axisTicks(g,axX,yL,[15,10,5,-5,-10],d=>d);
  axisTicks(g,axX,yA,[50,30,20],d=>d);
  const bt=g.selectAll(null).data(timeBars15).join("g");
  bt.append("line").attr("x1",x).attr("x2",x).attr("y1",bot).attr("y2",bot+4).attr("stroke","#000");
  bt.append("text").attr("x",x).attr("y",bot+16).attr("text-anchor","middle").attr("font-size",11.5).attr("fill","#000").text((d,i)=>timeLabels15[i]);
  tag(g,axX,yP(1332.95)-1,"","#aaa","#000",null,7);
  tag(g,axX,yP(1336.26),"1336,26","#0000ff","#fff");
  tag(g,axX,yP(1332.67),"1332,67","#0000ff","#fff");
  tag(g,axX,yP(1329.25),"1329,25","#000","#fff");
  tag(g,axX,yP(1322.83),"1322,83","#000","#fff");
  tag(g,axX,yP(1316.67),"1316,67","#ff0000","#fff");
  tag(g,axX,yP(1306.83),"1306,83","#ff0000","#fff");
  tag(g,axX,yL(-0.26),"-0,26","#9400d3","#fff");
  tag(g,axX,yL(-6.57),"-6,57","#0000ff","#fff");
  tag(g,axX,yA(39.77),"39,77","#008000","#fff");
})();

// ---------- RIGHT (5 min) ----------
(function(){
  const g=svg.append("g"),axX=1613,top=48,bot=970,left=783;
  const x=d3.scaleLinear().domain([0,203]).range([793.7,1605.7]);
  const yP=d3.scaleLinear().domain([1314,1331]).range([503.7,64.2]);
  const yL=d3.scaleLinear().domain([-5,10]).range([640.2,530.7]);
  const yA=d3.scaleLinear().domain([20,50]).range([806,705.7]);
  const yT=d3.scaleLinear().domain([.6,1.4]).range([944,844]);
  gridV(g,x,gridBars5,top,bot);
  gridH(g,yP,[1329,1326,1323,1320,1317],left,axX);
  gridH(g,yL,[-5],left,axX);
  gridH(g,yA,[50,20],left,axX);
  gridH(g,yT,[1.2,.6],left,axX);
  g.append("line").attr("x1",x(134)).attr("x2",x(134)).attr("y1",top).attr("y2",bot).attr("stroke","#b4b4b4");
  label(g,787,65,"KeltnerChannel(ES 03-11 (5 Min),2,5,20), Pivots(ES 03-11 (5 Min),Daily,DailyBars,0,0,0,20), BarColorKeltner(ES 03-11 (5 Min),1)",630);
  const P=line(x,yP);
  path(g,off(middle5),P,"#b8b8b8",1.2);
  path(g,off(upper5),P,"#3a3aff",1.2);
  path(g,off(lower5),P,"#3a3aff",1.2);
  ohlc(g,x,yP,high5,low5,open5,close5,colorRuns5);
  [["PP",1322.83,"#000"],["S1",1316.67,"#ff0000"]].forEach(([t,v,c])=>{
    hLine(g,1525,1605,yP(v),c,1.2);
    g.append("text").attr("x",1510).attr("y",yP(v)+4).attr("font-size",11).attr("fill",c).text(t);
  });
  g.append("path").attr("d","M1583,60V80L1600,70Z").attr("fill","#000");
  g.append("rect").attr("x",1601).attr("y",60).attr("width",3.5).attr("height",20).attr("fill","#000");
  path(g,off(divergenceLine),P,"#d2691e",2);
  hLine(g,left,axX,yL(0),"#c8c8c8",1.3);
  label(g,786.5,543,"LBR310(ES 03-11 (5 Min),3,16,10)",169);
  stems(g,lbr5,x,yL);
  path(g,lbr5.map((d,i)=>[i,d]),line(x,yL),"#ff0000",1);
  path(g,signal5,line(x,yL),"#9a1fd0",2.6);
  path(g,lbrCrossLine,line(x,yL),"#d2691e",2);
  path(g,lbrEntryLine,line(x,yL),"#d2691e",2);
  label(g,786,701,"ADX(ES 03-11 (5 Min),14)",128.6);
  hLine(g,left,axX,yA(30),"#9400d3",1.3);
  path(g,adx5,line(x,yA),"#2e8b2e",1.1);
  label(g,786,859,"ATR(ES 03-11 (5 Min),14)",128.6);
  path(g,atr5,line(x,yT),"#2e8b2e",1.1);
  g.append("text").attr("x",785).attr("y",968).attr("font-size",11).attr("fill","#000").text("© 2011 NinjaTrader, LLC");
  hLine(g,left,W,522,"#000",1.4);hLine(g,left,W,680,"#000",1.4);hLine(g,left,W,838,"#000",1.4);hLine(g,left,axX,bot,"#000",1);
  g.append("line").attr("x1",axX).attr("x2",axX).attr("y1",top).attr("y2",bot).attr("stroke","#000");
  axisTicks(g,axX,yP,ticks5.map(t=>t+priceBase),d=>d3.format(".2f")(d).replace(".",","));
  axisTicks(g,axX,yL,[10,5,-5],d=>d);
  axisTicks(g,axX,yA,[50,40,30,20],d=>d);
  axisTicks(g,axX,yT,[1.4,1.2,1,.8,.6],d=>String(d).replace(".",","));
  const bt=g.selectAll(null).data(timeBars5).join("g");
  bt.append("line").attr("x1",x).attr("x2",x).attr("y1",bot).attr("y2",bot+4).attr("stroke","#000");
  bt.append("text").attr("x",x).attr("y",bot+17).attr("text-anchor","middle").attr("font-size",11.5).attr("fill","#000").text((d,i)=>timeLabels5[i]);
  const gc="#a89f8f";
  [[yP(1329.97),"1329,97"],[yP(1328.75),"1328,75"],[yP(1327.72),"1327,72"],[yP(1322.83),"1322,83"],[yP(1316.67),"1316,67"],[yL(-0.7)+2,"-0,7"],[yL(0.506)-3,"0,506"],[yA(17.24),"17,24"],[yT(.462),"0,462"]].forEach(([yy,t])=>tag(g,axX,yy,t,gc,"#000"));
  const ga=svg.append("g").attr("filter","url(#shadow)");
  const curve=d3.line().x(d=>x(d[0])).y(d=>yP(d[1]+priceBase)).curve(d3.curveCatmullRom.alpha(.5));
  function arrow(pts){
    const n=pts.length,tip=[x(pts[n-1][0]),yP(pts[n-1][1]+priceBase)],pre=[x(pts[n-2][0]),yP(pts[n-2][1]+priceBase)];
    const a=Math.atan2(tip[1]-pre[1],tip[0]-pre[0]),len=18,wd=8;
    ga.append("path").attr("d",curve(pts.slice(0,-1).concat([[(x.invert(tip[0]-Math.cos(a)*12)),yP.invert(tip[1]-Math.sin(a)*12)-priceBase]]))).attr("fill","none").attr("stroke","#333").attr("stroke-width",3.2).attr("stroke-linecap","round");
    const bx=tip[0]-Math.cos(a)*len,by=tip[1]-Math.sin(a)*len;
    ga.append("path").attr("d",`M${tip[0]},${tip[1]}L${bx-Math.sin(a)*wd},${by+Math.cos(a)*wd}L${bx+Math.sin(a)*wd},${by-Math.cos(a)*wd}Z`).attr("fill","#333");
  }
  [arrowA,arrowB,arrowC,arrowD].forEach(arrow);
  ["Nice divergence and later a","first cross","entry would be around here","stop here"].forEach((t,i)=>{
    svg.append("text").attr("x",1145.5).attr("y",450+i*17.7).attr("font-size",15.4).attr("fill","#444").text(t);
  });
})();
</script></body></html>
